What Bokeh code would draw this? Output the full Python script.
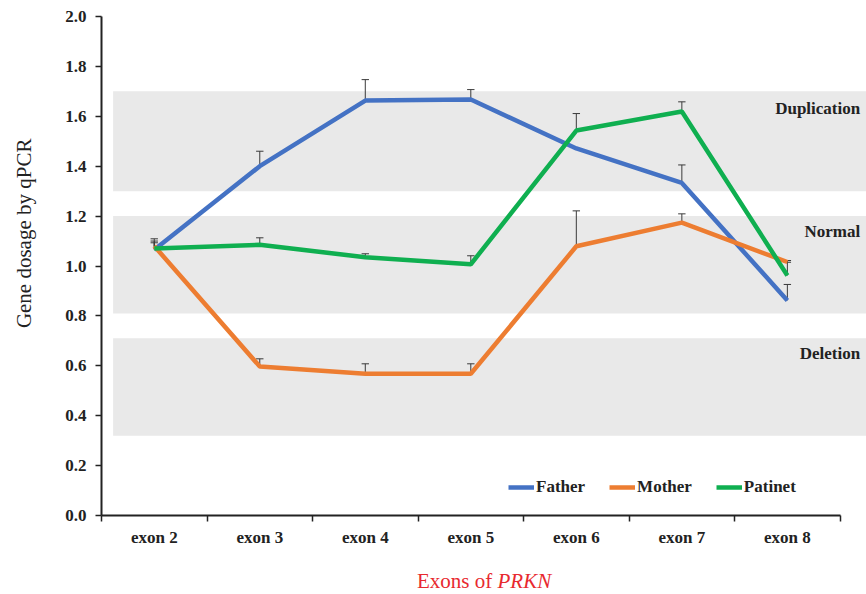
import math
from bokeh.plotting import figure
from bokeh.layouts import column, row
from bokeh.models import FixedTicker, Range1d, Legend, LegendItem, NumeralTickFormatter
from bokeh.core.properties import value
from bokeh.embed import file_html
from bokeh.resources import INLINE

exons = ["exon 2", "exon 3", "exon 4", "exon 5", "exon 6", "exon 7", "exon 8"]
father = [1.065, 1.40, 1.663, 1.667, 1.471, 1.333, 0.862]
father_err_top = [1.093, 1.46, 1.747, 1.707, 1.471, 1.405, 0.926]
mother = [1.08, 0.597, 0.568, 0.568, 1.079, 1.174, 1.016]
mother_err_top = [1.10, 0.628, 0.608, 0.608, 1.221, 1.209, 1.022]
patient = [1.07, 1.085, 1.035, 1.007, 1.543, 1.619, 0.962]
patient_err_top = [1.109, 1.113, 1.049, 1.041, 1.611, 1.658, 1.015]

bands = ["Duplication", "Normal", "Deletion"]
band_bottom = [1.30, 0.81, 0.32]
band_top = [1.70, 1.20, 0.71]
band_label_y = [1.63, 1.14, 0.65]

y_ticks = [0.0, 0.2, 0.4, 0.6, 0.8, 1.0, 1.2, 1.4, 1.6, 1.8, 2.0]

SERIF = "Liberation Serif"
DARK = "#222222"
xs = [i + 0.5 for i in range(len(exons))]

H = 550
p = figure(width=826, height=H, output_backend="svg", toolbar_location=None,
           x_range=Range1d(0, 7.25), y_range=Range1d(0, 2.0),
           min_border_left=61, min_border_right=0, min_border_top=16, min_border_bottom=35)
p.outline_line_color = None
p.xgrid.grid_line_color = None
p.ygrid.grid_line_color = None

# bands
p.quad(left=[0.11] * 3, right=[7.4] * 3, bottom=band_bottom, top=band_top,
       fill_color="#E9E9E9", line_color=None)
p.text(x=[7.19] * 3, y=band_label_y, text=bands, text_align="right", text_baseline="middle",
       text_font=value(SERIF), text_font_style="bold", text_font_size="17px", text_color=DARK)

# error bars
ecol = "#3a3a3a"
cap = 0.035
for vals, tops in [(father, father_err_top), (mother, mother_err_top), (patient, patient_err_top)]:
    p.segment(x0=xs, y0=vals, x1=xs, y1=tops, line_color=ecol, line_width=1)
    p.segment(x0=[x - cap for x in xs], y0=tops, x1=[x + cap for x in xs], y1=tops,
              line_color=ecol, line_width=1)

rf = p.line(xs, father, line_color="#4472C4", line_width=4.5)
rm = p.line(xs, mother, line_color="#ED7D31", line_width=4.5)
rp = p.line(xs, patient, line_color="#0FAF50", line_width=4.5)

legend = Legend(items=[LegendItem(label="Father", renderers=[rf]),
                       LegendItem(label="Mother", renderers=[rm]),
                       LegendItem(label="Patinet", renderers=[rp])],
                orientation="horizontal", location=(407, 18))
legend.background_fill_alpha = 0
legend.border_line_color = None
legend.label_text_font = SERIF
legend.label_text_font_style = "bold"
legend.label_text_font_size = "17px"
legend.label_text_color = DARK
legend.glyph_width = 26
legend.label_standoff = 2
legend.spacing = 24
legend.padding = 5
legend.margin = 0
p.add_layout(legend)

# x axis
xa = p.xaxis[0]
xa.ticker = FixedTicker(ticks=xs, minor_ticks=list(range(8)))
xa.major_label_overrides = {x: e for x, e in zip(xs, exons)}
xa.bounds = (0, 7)
xa.axis_line_color = DARK
xa.axis_line_width = 2
xa.major_tick_line_color = None
xa.minor_tick_line_color = DARK
xa.minor_tick_line_width = 1.5
xa.minor_tick_out = 6
xa.minor_tick_in = 0
xa.major_label_text_font = SERIF
xa.major_label_text_font_style = "bold"
xa.major_label_text_font_size = "17px"
xa.major_label_text_color = DARK
xa.major_label_standoff = 6

# y axis
ya = p.yaxis[0]
ya.ticker = FixedTicker(ticks=y_ticks, minor_ticks=[])
ya.formatter = NumeralTickFormatter(format="0.0")
ya.bounds = (0, 2)
ya.axis_line_color = DARK
ya.axis_line_width = 2
ya.major_tick_line_color = DARK
ya.major_tick_line_width = 1.5
ya.major_tick_out = 6
ya.major_tick_in = 0
ya.major_label_text_font = SERIF
ya.major_label_text_font_style = "bold"
ya.major_label_text_font_size = "17px"
ya.major_label_text_color = DARK
ya.major_label_standoff = 9

# y-axis title strip (left)
lft = figure(width=40, height=H, output_backend="svg", toolbar_location=None,
             x_range=Range1d(0, 40), y_range=Range1d(0, H),
             x_axis_type=None, y_axis_type=None,
             min_border_left=0, min_border_right=0, min_border_top=0, min_border_bottom=0)
lft.grid.visible = False
lft.outline_line_color = None
lft.text(x=[23], y=[H - 239], text=["Gene dosage by qPCR"], angle=math.pi / 2,
         text_align="center", text_baseline="middle",
         text_font=value(SERIF), text_font_size="21px", text_color=DARK)

# x title with italic gene name (strip below)
red = "#E8292F"
TH = 44
t = figure(width=866, height=TH, output_backend="svg", toolbar_location=None,
           x_range=Range1d(0, 866), y_range=Range1d(0, TH),
           x_axis_type=None, y_axis_type=None,
           min_border_left=0, min_border_right=0, min_border_top=0, min_border_bottom=0)
t.grid.visible = False
t.outline_line_color = None
t.text(x=[497], y=[TH - 30], text=["Exons of "], text_align="right", text_baseline="middle",
       text_font=value(SERIF), text_font_size="21px", text_color=red)
t.text(x=[497], y=[TH - 30], text=["PRKN"], text_align="left", text_baseline="middle",
       text_font=value(SERIF), text_font_style="italic", text_font_size="21px", text_color=red)

layout = column(row(lft, p, spacing=0), t, spacing=0)
open("out.html", "w").write(file_html(layout, INLINE))
